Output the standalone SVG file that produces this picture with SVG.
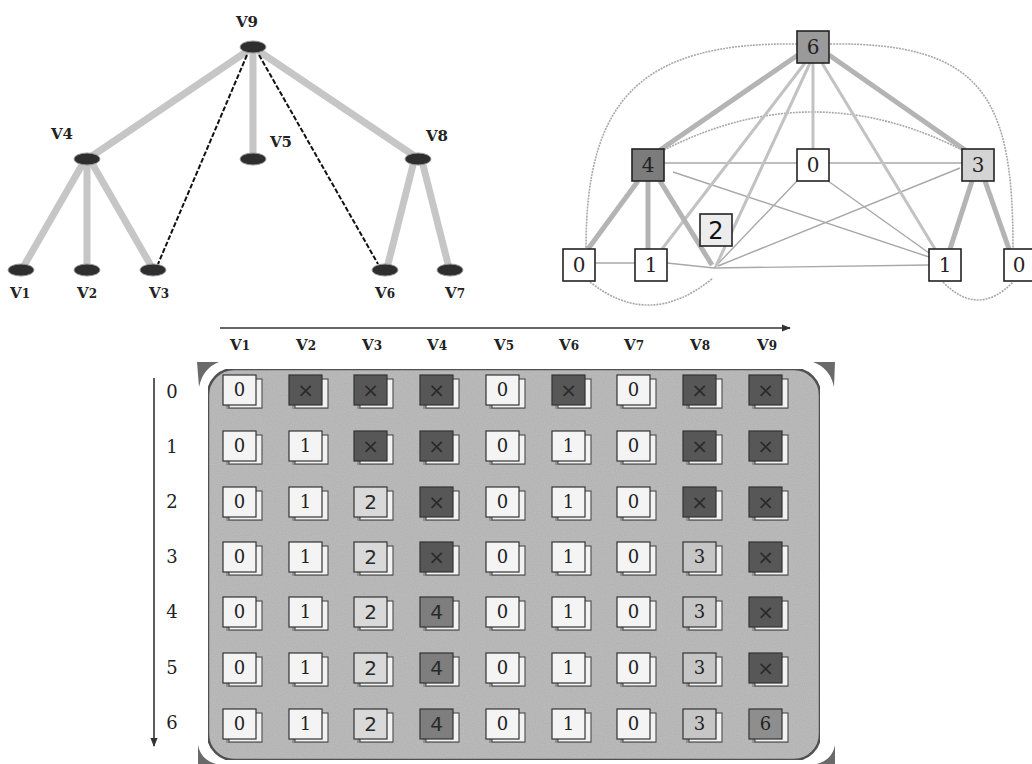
<svg xmlns="http://www.w3.org/2000/svg" width="1032" height="764" viewBox="0 0 1032 764">
  <defs>
    <marker id="arrowR" viewBox="0 0 10 10" refX="9" refY="5" markerWidth="9" markerHeight="9" orient="auto" markerUnits="userSpaceOnUse">
      <path d="M0,1 L10,5 L0,9 Z" fill="#333"/>
    </marker>
    <filter id="grain" x="0" y="0" width="100%" height="100%">
      <feTurbulence type="fractalNoise" baseFrequency="0.9" numOctaves="1" seed="3" result="n"/>
      <feColorMatrix in="n" type="matrix" values="0 0 0 0 0  0 0 0 0 0  0 0 0 0 0  0 0 0 0.18 0" result="dots"/>
      <feComposite in="dots" in2="SourceGraphic" operator="in" result="d2"/>
      <feMerge><feMergeNode in="SourceGraphic"/><feMergeNode in="d2"/></feMerge>
    </filter>
  </defs>
  <style>
    .lbl { font-family: "DejaVu Serif", "Liberation Serif", serif; font-weight: bold; font-size: 15px; fill: #222; text-anchor: middle; }
    .hdr { font-family: "DejaVu Serif", "Liberation Serif", serif; font-weight: bold; font-size: 15px; fill: #222; text-anchor: middle; }
    .sub { font-size: 12px; }
    .tnode { fill: #2e2e2e; stroke: #999; stroke-width: 1; }
    .tedge { stroke: #c6c6c6; stroke-width: 7; stroke-linecap: round; fill: none; }
    .tdash { stroke: #111; stroke-width: 2; stroke-dasharray: 5 2; fill: none; }
    .gthick { stroke: #b4b4b4; stroke-width: 5; fill: none; }
    .gmed { stroke: #c2c2c2; stroke-width: 3; fill: none; }
    .gthin { stroke: #a8a8a8; stroke-width: 1.4; fill: none; }
    .garc { stroke: #a8a8a8; stroke-width: 1.6; fill: none; stroke-dasharray: 2 1; }
    .gbox { stroke: #222; stroke-width: 1.6; }
    .gtxt { font-family: "DejaVu Serif", "Liberation Serif", serif; font-size: 20px; fill: #222; text-anchor: middle; }
    .gtxt2 { font-family: "DejaVu Sans", "Liberation Sans", sans-serif; font-size: 24px; fill: #111; text-anchor: middle; }
    .axis { stroke: #333; stroke-width: 1.6; fill: none; }
    .rowl { font-family: "DejaVu Serif", "Liberation Serif", serif; font-size: 18px; fill: #222; text-anchor: middle; }
    .corner { fill: #6a6a6a; }
    .shadow { fill: #6e6e6e; opacity: 0.5; }
    .back { fill: #f2f2f2; stroke: #555; stroke-width: 1.2; }
    .front { stroke: #333; stroke-width: 1.2; }
    .w { fill: #f4f4f4; }
    .l2 { fill: #d9d9d9; }
    .l3 { fill: #c6c6c6; }
    .m4 { fill: #7e7e7e; }
    .m6 { fill: #8e8e8e; }
    .x { fill: #575757; }
    .ct { font-family: "DejaVu Serif", "Liberation Serif", serif; font-size: 18px; fill: #222; text-anchor: middle; }
    .cx { font-family: "DejaVu Sans", "Liberation Sans", sans-serif; font-size: 20px; fill: #2a2a2a; text-anchor: middle; }
  </style>
  <rect width="1032" height="764" fill="#ffffff"/>

  <!-- ===== Tree (left) ===== -->
  <g id="tree-edges">
    <line class="tedge" x1="246" y1="52" x2="92" y2="156"/>
    <line class="tedge" x1="253" y1="53" x2="253" y2="153"/>
    <line class="tedge" x1="260" y1="52" x2="413" y2="155"/>
    <line class="tedge" x1="82" y1="165" x2="25" y2="264"/>
    <line class="tedge" x1="87" y1="165" x2="87" y2="264"/>
    <line class="tedge" x1="93" y1="165" x2="150" y2="264"/>
    <line class="tedge" x1="413" y1="165" x2="388" y2="264"/>
    <line class="tedge" x1="423" y1="165" x2="448" y2="264"/>
    <line class="tdash" x1="247" y1="55" x2="158" y2="264"/>
    <line class="tdash" x1="259" y1="55" x2="378" y2="264"/>
  </g>
  <g id="t-v9"><ellipse class="tnode" cx="253" cy="47" rx="13" ry="6"/><text class="lbl" x="247" y="27">V9</text></g>
  <g id="t-v4"><ellipse class="tnode" cx="87" cy="159" rx="13" ry="6"/><text class="lbl" x="62" y="139">V4</text></g>
  <g id="t-v5"><ellipse class="tnode" cx="253" cy="159" rx="13" ry="6"/><text class="lbl" x="281" y="147">V5</text></g>
  <g id="t-v8"><ellipse class="tnode" cx="418" cy="159" rx="13" ry="6"/><text class="lbl" x="437" y="141">V8</text></g>
  <g id="t-v1"><ellipse class="tnode" cx="21" cy="270" rx="13" ry="6"/><text class="lbl" x="20" y="298">V<tspan class="sub">1</tspan></text></g>
  <g id="t-v2"><ellipse class="tnode" cx="87" cy="270" rx="13" ry="6"/><text class="lbl" x="87" y="298">V<tspan class="sub">2</tspan></text></g>
  <g id="t-v3"><ellipse class="tnode" cx="153" cy="270" rx="13" ry="6"/><text class="lbl" x="159" y="298">V<tspan class="sub">3</tspan></text></g>
  <g id="t-v6"><ellipse class="tnode" cx="385" cy="270" rx="13" ry="6"/><text class="lbl" x="385" y="298">V<tspan class="sub">6</tspan></text></g>
  <g id="t-v7"><ellipse class="tnode" cx="450" cy="270" rx="13" ry="6"/><text class="lbl" x="455" y="298">V<tspan class="sub">7</tspan></text></g>

  <!-- ===== Weighted graph (right) ===== -->
  <g id="graph-edges">
    <path class="garc" d="M797,44 C640,42 586,100 586,248"/>
    <path class="garc" d="M830,44 C985,42 1013,100 1013,248"/>
    <path class="garc" d="M664,150 Q813,74 962,150"/>
    <path class="garc" d="M590,282 Q650,330 713,278"/>
    <path class="garc" d="M943,282 Q978,318 1013,282"/>
    <line class="gthin" x1="664" y1="163" x2="797" y2="163"/>
    <line class="gthin" x1="829" y1="163" x2="962" y2="163"/>
    <line class="gthin" x1="673" y1="172" x2="929" y2="257"/>
    <line class="gthin" x1="828" y1="181" x2="929" y2="253"/>
    <line class="gthin" x1="960" y1="168" x2="718" y2="266"/>
    <line class="gthin" x1="797" y1="181" x2="714" y2="268"/>
    <line class="gthin" x1="595" y1="263" x2="635" y2="263"/>
    <line class="gthin" x1="667" y1="263" x2="714" y2="268"/>
    <line class="gthin" x1="714" y1="268" x2="929" y2="265"/>
    <line class="gmed" x1="813" y1="63" x2="813" y2="149"/>
    <line class="gmed" x1="805" y1="63" x2="662" y2="249"/>
    <line class="gmed" x1="810" y1="63" x2="716" y2="266"/>
    <line class="gmed" x1="822" y1="63" x2="935" y2="249"/>
    <line class="gthick" x1="798" y1="55" x2="660" y2="150"/>
    <line class="gthick" x1="829" y1="55" x2="965" y2="150"/>
    <line class="gthick" x1="638" y1="181" x2="588" y2="249"/>
    <line class="gthick" x1="648" y1="181" x2="648" y2="249"/>
    <line class="gthick" x1="660" y1="181" x2="712" y2="265"/>
    <line class="gthick" x1="972" y1="181" x2="950" y2="249"/>
    <line class="gthick" x1="985" y1="181" x2="1009" y2="249"/>
  </g>
  <g id="g-6"><rect class="gbox" x="797" y="31" width="32" height="32" fill="#9a9a9a"/><text class="gtxt" x="813" y="54">6</text></g>
  <g id="g-4"><rect class="gbox" x="632" y="149" width="32" height="32" fill="#7c7c7c"/><text class="gtxt" x="648" y="172">4</text></g>
  <g id="g-0m"><rect class="gbox" x="797" y="149" width="32" height="32" fill="#ffffff"/><text class="gtxt" x="813" y="172">0</text></g>
  <g id="g-3"><rect class="gbox" x="962" y="149" width="32" height="32" fill="#d4d4d4"/><text class="gtxt" x="978" y="172">3</text></g>
  <g id="g-2"><rect class="gbox" x="700" y="214" width="32" height="32" fill="#ececec"/><text class="gtxt2" x="716" y="239">2</text></g>
  <g id="g-0l"><rect class="gbox" x="563" y="249" width="32" height="32" fill="#ffffff"/><text class="gtxt" x="579" y="272">0</text></g>
  <g id="g-1l"><rect class="gbox" x="635" y="249" width="32" height="32" fill="#ffffff"/><text class="gtxt" x="651" y="272">1</text></g>
  <g id="g-1r"><rect class="gbox" x="929" y="249" width="32" height="32" fill="#ffffff"/><text class="gtxt" x="945" y="272">1</text></g>
  <g id="g-0r"><rect class="gbox" x="1004" y="249" width="32" height="32" fill="#ffffff"/><text class="gtxt" x="1019" y="272">0</text></g>

  <!-- ===== Table (bottom) ===== -->
  <g id="axes">
    <line class="axis" x1="220" y1="328" x2="790" y2="328" marker-end="url(#arrowR)"/>
    <line class="axis" x1="154" y1="378" x2="154" y2="746" marker-end="url(#arrowR)"/>
  </g>
  <g id="col-labels">
    <text class="hdr" x="240" y="350">V<tspan class="sub">1</tspan></text>
    <text class="hdr" x="306" y="350">V<tspan class="sub">2</tspan></text>
    <text class="hdr" x="372" y="350">V<tspan class="sub">3</tspan></text>
    <text class="hdr" x="437" y="350">V<tspan class="sub">4</tspan></text>
    <text class="hdr" x="504" y="350">V<tspan class="sub">5</tspan></text>
    <text class="hdr" x="569" y="350">V<tspan class="sub">6</tspan></text>
    <text class="hdr" x="634" y="350">V<tspan class="sub">7</tspan></text>
    <text class="hdr" x="700" y="350">V<tspan class="sub">8</tspan></text>
    <text class="hdr" x="767" y="350">V<tspan class="sub">9</tspan></text>
  </g>
  <g id="row-labels">
    <text class="rowl" x="172" y="398">0</text>
    <text class="rowl" x="172" y="453">1</text>
    <text class="rowl" x="172" y="508">2</text>
    <text class="rowl" x="172" y="563">3</text>
    <text class="rowl" x="172" y="618">4</text>
    <text class="rowl" x="172" y="674">5</text>
    <text class="rowl" x="172" y="729">6</text>
  </g>
  <g id="panel">
    <rect x="208" y="369" width="612" height="391" rx="26" fill="#bfbfbf" stroke="#555" stroke-width="2.5" filter="url(#grain)"/>
    <path class="corner" d="M197,362 L219,362 Q203,368 199,387 Z"/>
    <path class="corner" d="M813,362 L835,362 L834,387 Q830,368 813,362 Z"/>
    <path class="corner" d="M198,745 L198,764 L216,764 Q201,760 198,745 Z"/>
    <path class="corner" d="M835,745 L835,764 L817,764 Q832,760 835,745 Z"/>
  </g>
  <g id="cells">
    <!-- column centres: 240 306 371 437 503 569 634 700 766; row centres: 390 446 502 557 612 668 724 -->
    <g id="row0">
      <g transform="translate(240,390)"><rect class="shadow" x="-14" y="12" width="36" height="7"/><rect class="back" x="-11" y="-11" width="33" height="29"/><rect class="front w" x="-17" y="-15" width="33" height="30"/><text class="ct" x="-0.5" y="6">0</text></g>
      <g transform="translate(306,390)"><rect class="shadow" x="-14" y="12" width="36" height="7"/><rect class="back" x="-11" y="-11" width="33" height="29"/><rect class="front x" x="-17" y="-15" width="33" height="30"/><text class="cx" x="-0.5" y="7">×</text></g>
      <g transform="translate(371,390)"><rect class="shadow" x="-14" y="12" width="36" height="7"/><rect class="back" x="-11" y="-11" width="33" height="29"/><rect class="front x" x="-17" y="-15" width="33" height="30"/><text class="cx" x="-0.5" y="7">×</text></g>
      <g transform="translate(437,390)"><rect class="shadow" x="-14" y="12" width="36" height="7"/><rect class="back" x="-11" y="-11" width="33" height="29"/><rect class="front x" x="-17" y="-15" width="33" height="30"/><text class="cx" x="-0.5" y="7">×</text></g>
      <g transform="translate(503,390)"><rect class="shadow" x="-14" y="12" width="36" height="7"/><rect class="back" x="-11" y="-11" width="33" height="29"/><rect class="front w" x="-17" y="-15" width="33" height="30"/><text class="ct" x="-0.5" y="6">0</text></g>
      <g transform="translate(569,390)"><rect class="shadow" x="-14" y="12" width="36" height="7"/><rect class="back" x="-11" y="-11" width="33" height="29"/><rect class="front x" x="-17" y="-15" width="33" height="30"/><text class="cx" x="-0.5" y="7">×</text></g>
      <g transform="translate(634,390)"><rect class="shadow" x="-14" y="12" width="36" height="7"/><rect class="back" x="-11" y="-11" width="33" height="29"/><rect class="front w" x="-17" y="-15" width="33" height="30"/><text class="ct" x="-0.5" y="6">0</text></g>
      <g transform="translate(700,390)"><rect class="shadow" x="-14" y="12" width="36" height="7"/><rect class="back" x="-11" y="-11" width="33" height="29"/><rect class="front x" x="-17" y="-15" width="33" height="30"/><text class="cx" x="-0.5" y="7">×</text></g>
      <g transform="translate(766,390)"><rect class="shadow" x="-14" y="12" width="36" height="7"/><rect class="back" x="-11" y="-11" width="33" height="29"/><rect class="front x" x="-17" y="-15" width="33" height="30"/><text class="cx" x="-0.5" y="7">×</text></g>
    </g>
    <g id="row1">
      <g transform="translate(240,446)"><rect class="shadow" x="-14" y="12" width="36" height="7"/><rect class="back" x="-11" y="-11" width="33" height="29"/><rect class="front w" x="-17" y="-15" width="33" height="30"/><text class="ct" x="-0.5" y="6">0</text></g>
      <g transform="translate(306,446)"><rect class="shadow" x="-14" y="12" width="36" height="7"/><rect class="back" x="-11" y="-11" width="33" height="29"/><rect class="front w" x="-17" y="-15" width="33" height="30"/><text class="ct" x="-0.5" y="6">1</text></g>
      <g transform="translate(371,446)"><rect class="shadow" x="-14" y="12" width="36" height="7"/><rect class="back" x="-11" y="-11" width="33" height="29"/><rect class="front x" x="-17" y="-15" width="33" height="30"/><text class="cx" x="-0.5" y="7">×</text></g>
      <g transform="translate(437,446)"><rect class="shadow" x="-14" y="12" width="36" height="7"/><rect class="back" x="-11" y="-11" width="33" height="29"/><rect class="front x" x="-17" y="-15" width="33" height="30"/><text class="cx" x="-0.5" y="7">×</text></g>
      <g transform="translate(503,446)"><rect class="shadow" x="-14" y="12" width="36" height="7"/><rect class="back" x="-11" y="-11" width="33" height="29"/><rect class="front w" x="-17" y="-15" width="33" height="30"/><text class="ct" x="-0.5" y="6">0</text></g>
      <g transform="translate(569,446)"><rect class="shadow" x="-14" y="12" width="36" height="7"/><rect class="back" x="-11" y="-11" width="33" height="29"/><rect class="front w" x="-17" y="-15" width="33" height="30"/><text class="ct" x="-0.5" y="6">1</text></g>
      <g transform="translate(634,446)"><rect class="shadow" x="-14" y="12" width="36" height="7"/><rect class="back" x="-11" y="-11" width="33" height="29"/><rect class="front w" x="-17" y="-15" width="33" height="30"/><text class="ct" x="-0.5" y="6">0</text></g>
      <g transform="translate(700,446)"><rect class="shadow" x="-14" y="12" width="36" height="7"/><rect class="back" x="-11" y="-11" width="33" height="29"/><rect class="front x" x="-17" y="-15" width="33" height="30"/><text class="cx" x="-0.5" y="7">×</text></g>
      <g transform="translate(766,446)"><rect class="shadow" x="-14" y="12" width="36" height="7"/><rect class="back" x="-11" y="-11" width="33" height="29"/><rect class="front x" x="-17" y="-15" width="33" height="30"/><text class="cx" x="-0.5" y="7">×</text></g>
    </g>
    <g id="row2">
      <g transform="translate(240,502)"><rect class="shadow" x="-14" y="12" width="36" height="7"/><rect class="back" x="-11" y="-11" width="33" height="29"/><rect class="front w" x="-17" y="-15" width="33" height="30"/><text class="ct" x="-0.5" y="6">0</text></g>
      <g transform="translate(306,502)"><rect class="shadow" x="-14" y="12" width="36" height="7"/><rect class="back" x="-11" y="-11" width="33" height="29"/><rect class="front w" x="-17" y="-15" width="33" height="30"/><text class="ct" x="-0.5" y="6">1</text></g>
      <g transform="translate(371,502)"><rect class="shadow" x="-14" y="12" width="36" height="7"/><rect class="back" x="-11" y="-11" width="33" height="29"/><rect class="front l2" x="-17" y="-15" width="33" height="30"/><text class="cx" x="-0.5" y="7">2</text></g>
      <g transform="translate(437,502)"><rect class="shadow" x="-14" y="12" width="36" height="7"/><rect class="back" x="-11" y="-11" width="33" height="29"/><rect class="front x" x="-17" y="-15" width="33" height="30"/><text class="cx" x="-0.5" y="7">×</text></g>
      <g transform="translate(503,502)"><rect class="shadow" x="-14" y="12" width="36" height="7"/><rect class="back" x="-11" y="-11" width="33" height="29"/><rect class="front w" x="-17" y="-15" width="33" height="30"/><text class="ct" x="-0.5" y="6">0</text></g>
      <g transform="translate(569,502)"><rect class="shadow" x="-14" y="12" width="36" height="7"/><rect class="back" x="-11" y="-11" width="33" height="29"/><rect class="front w" x="-17" y="-15" width="33" height="30"/><text class="ct" x="-0.5" y="6">1</text></g>
      <g transform="translate(634,502)"><rect class="shadow" x="-14" y="12" width="36" height="7"/><rect class="back" x="-11" y="-11" width="33" height="29"/><rect class="front w" x="-17" y="-15" width="33" height="30"/><text class="ct" x="-0.5" y="6">0</text></g>
      <g transform="translate(700,502)"><rect class="shadow" x="-14" y="12" width="36" height="7"/><rect class="back" x="-11" y="-11" width="33" height="29"/><rect class="front x" x="-17" y="-15" width="33" height="30"/><text class="cx" x="-0.5" y="7">×</text></g>
      <g transform="translate(766,502)"><rect class="shadow" x="-14" y="12" width="36" height="7"/><rect class="back" x="-11" y="-11" width="33" height="29"/><rect class="front x" x="-17" y="-15" width="33" height="30"/><text class="cx" x="-0.5" y="7">×</text></g>
    </g>
    <g id="row3">
      <g transform="translate(240,557)"><rect class="shadow" x="-14" y="12" width="36" height="7"/><rect class="back" x="-11" y="-11" width="33" height="29"/><rect class="front w" x="-17" y="-15" width="33" height="30"/><text class="ct" x="-0.5" y="6">0</text></g>
      <g transform="translate(306,557)"><rect class="shadow" x="-14" y="12" width="36" height="7"/><rect class="back" x="-11" y="-11" width="33" height="29"/><rect class="front w" x="-17" y="-15" width="33" height="30"/><text class="ct" x="-0.5" y="6">1</text></g>
      <g transform="translate(371,557)"><rect class="shadow" x="-14" y="12" width="36" height="7"/><rect class="back" x="-11" y="-11" width="33" height="29"/><rect class="front l2" x="-17" y="-15" width="33" height="30"/><text class="cx" x="-0.5" y="7">2</text></g>
      <g transform="translate(437,557)"><rect class="shadow" x="-14" y="12" width="36" height="7"/><rect class="back" x="-11" y="-11" width="33" height="29"/><rect class="front x" x="-17" y="-15" width="33" height="30"/><text class="cx" x="-0.5" y="7">×</text></g>
      <g transform="translate(503,557)"><rect class="shadow" x="-14" y="12" width="36" height="7"/><rect class="back" x="-11" y="-11" width="33" height="29"/><rect class="front w" x="-17" y="-15" width="33" height="30"/><text class="ct" x="-0.5" y="6">0</text></g>
      <g transform="translate(569,557)"><rect class="shadow" x="-14" y="12" width="36" height="7"/><rect class="back" x="-11" y="-11" width="33" height="29"/><rect class="front w" x="-17" y="-15" width="33" height="30"/><text class="ct" x="-0.5" y="6">1</text></g>
      <g transform="translate(634,557)"><rect class="shadow" x="-14" y="12" width="36" height="7"/><rect class="back" x="-11" y="-11" width="33" height="29"/><rect class="front w" x="-17" y="-15" width="33" height="30"/><text class="ct" x="-0.5" y="6">0</text></g>
      <g transform="translate(700,557)"><rect class="shadow" x="-14" y="12" width="36" height="7"/><rect class="back" x="-11" y="-11" width="33" height="29"/><rect class="front l3" x="-17" y="-15" width="33" height="30"/><text class="ct" x="-0.5" y="6">3</text></g>
      <g transform="translate(766,557)"><rect class="shadow" x="-14" y="12" width="36" height="7"/><rect class="back" x="-11" y="-11" width="33" height="29"/><rect class="front x" x="-17" y="-15" width="33" height="30"/><text class="cx" x="-0.5" y="7">×</text></g>
    </g>
    <g id="row4">
      <g transform="translate(240,612)"><rect class="shadow" x="-14" y="12" width="36" height="7"/><rect class="back" x="-11" y="-11" width="33" height="29"/><rect class="front w" x="-17" y="-15" width="33" height="30"/><text class="ct" x="-0.5" y="6">0</text></g>
      <g transform="translate(306,612)"><rect class="shadow" x="-14" y="12" width="36" height="7"/><rect class="back" x="-11" y="-11" width="33" height="29"/><rect class="front w" x="-17" y="-15" width="33" height="30"/><text class="ct" x="-0.5" y="6">1</text></g>
      <g transform="translate(371,612)"><rect class="shadow" x="-14" y="12" width="36" height="7"/><rect class="back" x="-11" y="-11" width="33" height="29"/><rect class="front l2" x="-17" y="-15" width="33" height="30"/><text class="cx" x="-0.5" y="7">2</text></g>
      <g transform="translate(437,612)"><rect class="shadow" x="-14" y="12" width="36" height="7"/><rect class="back" x="-11" y="-11" width="33" height="29"/><rect class="front m4" x="-17" y="-15" width="33" height="30"/><text class="cx" x="-0.5" y="7">4</text></g>
      <g transform="translate(503,612)"><rect class="shadow" x="-14" y="12" width="36" height="7"/><rect class="back" x="-11" y="-11" width="33" height="29"/><rect class="front w" x="-17" y="-15" width="33" height="30"/><text class="ct" x="-0.5" y="6">0</text></g>
      <g transform="translate(569,612)"><rect class="shadow" x="-14" y="12" width="36" height="7"/><rect class="back" x="-11" y="-11" width="33" height="29"/><rect class="front w" x="-17" y="-15" width="33" height="30"/><text class="ct" x="-0.5" y="6">1</text></g>
      <g transform="translate(634,612)"><rect class="shadow" x="-14" y="12" width="36" height="7"/><rect class="back" x="-11" y="-11" width="33" height="29"/><rect class="front w" x="-17" y="-15" width="33" height="30"/><text class="ct" x="-0.5" y="6">0</text></g>
      <g transform="translate(700,612)"><rect class="shadow" x="-14" y="12" width="36" height="7"/><rect class="back" x="-11" y="-11" width="33" height="29"/><rect class="front l3" x="-17" y="-15" width="33" height="30"/><text class="ct" x="-0.5" y="6">3</text></g>
      <g transform="translate(766,612)"><rect class="shadow" x="-14" y="12" width="36" height="7"/><rect class="back" x="-11" y="-11" width="33" height="29"/><rect class="front x" x="-17" y="-15" width="33" height="30"/><text class="cx" x="-0.5" y="7">×</text></g>
    </g>
    <g id="row5">
      <g transform="translate(240,668)"><rect class="shadow" x="-14" y="12" width="36" height="7"/><rect class="back" x="-11" y="-11" width="33" height="29"/><rect class="front w" x="-17" y="-15" width="33" height="30"/><text class="ct" x="-0.5" y="6">0</text></g>
      <g transform="translate(306,668)"><rect class="shadow" x="-14" y="12" width="36" height="7"/><rect class="back" x="-11" y="-11" width="33" height="29"/><rect class="front w" x="-17" y="-15" width="33" height="30"/><text class="ct" x="-0.5" y="6">1</text></g>
      <g transform="translate(371,668)"><rect class="shadow" x="-14" y="12" width="36" height="7"/><rect class="back" x="-11" y="-11" width="33" height="29"/><rect class="front l2" x="-17" y="-15" width="33" height="30"/><text class="cx" x="-0.5" y="7">2</text></g>
      <g transform="translate(437,668)"><rect class="shadow" x="-14" y="12" width="36" height="7"/><rect class="back" x="-11" y="-11" width="33" height="29"/><rect class="front m4" x="-17" y="-15" width="33" height="30"/><text class="cx" x="-0.5" y="7">4</text></g>
      <g transform="translate(503,668)"><rect class="shadow" x="-14" y="12" width="36" height="7"/><rect class="back" x="-11" y="-11" width="33" height="29"/><rect class="front w" x="-17" y="-15" width="33" height="30"/><text class="ct" x="-0.5" y="6">0</text></g>
      <g transform="translate(569,668)"><rect class="shadow" x="-14" y="12" width="36" height="7"/><rect class="back" x="-11" y="-11" width="33" height="29"/><rect class="front w" x="-17" y="-15" width="33" height="30"/><text class="ct" x="-0.5" y="6">1</text></g>
      <g transform="translate(634,668)"><rect class="shadow" x="-14" y="12" width="36" height="7"/><rect class="back" x="-11" y="-11" width="33" height="29"/><rect class="front w" x="-17" y="-15" width="33" height="30"/><text class="ct" x="-0.5" y="6">0</text></g>
      <g transform="translate(700,668)"><rect class="shadow" x="-14" y="12" width="36" height="7"/><rect class="back" x="-11" y="-11" width="33" height="29"/><rect class="front l3" x="-17" y="-15" width="33" height="30"/><text class="ct" x="-0.5" y="6">3</text></g>
      <g transform="translate(766,668)"><rect class="shadow" x="-14" y="12" width="36" height="7"/><rect class="back" x="-11" y="-11" width="33" height="29"/><rect class="front x" x="-17" y="-15" width="33" height="30"/><text class="cx" x="-0.5" y="7">×</text></g>
    </g>
    <g id="row6">
      <g transform="translate(240,724)"><rect class="shadow" x="-14" y="12" width="36" height="7"/><rect class="back" x="-11" y="-11" width="33" height="29"/><rect class="front w" x="-17" y="-15" width="33" height="30"/><text class="ct" x="-0.5" y="6">0</text></g>
      <g transform="translate(306,724)"><rect class="shadow" x="-14" y="12" width="36" height="7"/><rect class="back" x="-11" y="-11" width="33" height="29"/><rect class="front w" x="-17" y="-15" width="33" height="30"/><text class="ct" x="-0.5" y="6">1</text></g>
      <g transform="translate(371,724)"><rect class="shadow" x="-14" y="12" width="36" height="7"/><rect class="back" x="-11" y="-11" width="33" height="29"/><rect class="front l2" x="-17" y="-15" width="33" height="30"/><text class="cx" x="-0.5" y="7">2</text></g>
      <g transform="translate(437,724)"><rect class="shadow" x="-14" y="12" width="36" height="7"/><rect class="back" x="-11" y="-11" width="33" height="29"/><rect class="front m4" x="-17" y="-15" width="33" height="30"/><text class="cx" x="-0.5" y="7">4</text></g>
      <g transform="translate(503,724)"><rect class="shadow" x="-14" y="12" width="36" height="7"/><rect class="back" x="-11" y="-11" width="33" height="29"/><rect class="front w" x="-17" y="-15" width="33" height="30"/><text class="ct" x="-0.5" y="6">0</text></g>
      <g transform="translate(569,724)"><rect class="shadow" x="-14" y="12" width="36" height="7"/><rect class="back" x="-11" y="-11" width="33" height="29"/><rect class="front w" x="-17" y="-15" width="33" height="30"/><text class="ct" x="-0.5" y="6">1</text></g>
      <g transform="translate(634,724)"><rect class="shadow" x="-14" y="12" width="36" height="7"/><rect class="back" x="-11" y="-11" width="33" height="29"/><rect class="front w" x="-17" y="-15" width="33" height="30"/><text class="ct" x="-0.5" y="6">0</text></g>
      <g transform="translate(700,724)"><rect class="shadow" x="-14" y="12" width="36" height="7"/><rect class="back" x="-11" y="-11" width="33" height="29"/><rect class="front l3" x="-17" y="-15" width="33" height="30"/><text class="ct" x="-0.5" y="6">3</text></g>
      <g transform="translate(766,724)"><rect class="shadow" x="-14" y="12" width="36" height="7"/><rect class="back" x="-11" y="-11" width="33" height="29"/><rect class="front m6" x="-17" y="-15" width="33" height="30"/><text class="ct" x="-0.5" y="6">6</text></g>
    </g>
  </g>
</svg>
